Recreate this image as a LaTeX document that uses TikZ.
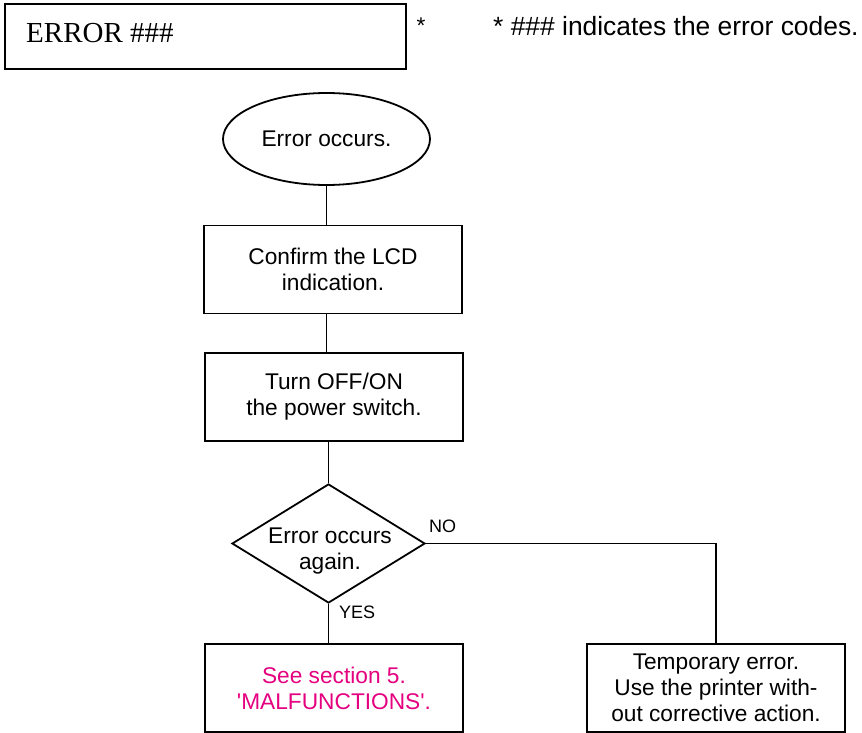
\documentclass[tikz,border=0pt]{standalone}
\usepackage{fontspec}
\usepackage{xcolor}
\setmainfont{Liberation Sans}
\newfontfamily\lcdserif{Liberation Serif}
\usetikzlibrary{shapes.geometric}
\definecolor{ManualPink}{HTML}{E4007F}

\begin{document}
\begin{tikzpicture}[
    x=1pt, y=-1pt,
    every node/.style={inner sep=0pt},
    flowtext/.style={align=center, font=\fontsize{22.7pt}{26pt}\selectfont},
    box/.style={draw, line width=1.8pt, rectangle, minimum width=258pt, minimum height=88pt, flowtext},
    startbox/.style={draw, line width=1.8pt, ellipse, minimum width=207pt, minimum height=92pt, flowtext},
    decision/.style={draw, line width=1.8pt, diamond, minimum width=193pt, minimum height=119pt},
    flow/.style={line width=1.8pt},
    answer/.style={anchor=base west, font=\fontsize{18pt}{20pt}\selectfont}
  ]
    \useasboundingbox (0,0) rectangle (862,733);

    \node[draw, line width=1.8pt, minimum width=401pt, minimum height=65pt] (errbox) at (205.5,36.5) {};
    \node[anchor=base west, font=\lcdserif\fontsize{29pt}{32pt}\selectfont] (errcode) at (26,43) {ERROR \#\#\#};
    \node[anchor=base, font=\fontsize{22.7pt}{26pt}\selectfont] (star) at (421,34) {*};
    \node[anchor=base west, font=\fontsize{26.4pt}{30pt}\selectfont] (note) at (493,36) {* \#\#\# indicates the error codes.};

    \node[startbox] (start) at (326.5,139) {\raisebox{-4pt}{Error occurs.}};
    \node[box] (confirm) at (333,269.5) {Confirm the LCD\\indication.};
    \node[box] (power) at (334,397) {Turn OFF/ON\\the power switch.};
    \node[decision] (again) at (328.5,543.5) {};
    \node[flowtext] (againtext) at (330,551) {Error occurs\\again.};
    \node[box, text=ManualPink] (malf) at (334,688) {See section 5.\\\textquotesingle MALFUNCTIONS\textquotesingle .};
    \node[box] (temp) at (716,688) {Temporary error.\\Use the printer with-\\out corrective action.};

    \draw[flow] (start.south) -- (start.south |- confirm.north);
    \draw[flow] (start.south |- confirm.south) -- (start.south |- power.north);
    \draw[flow] (again.north |- power.south) -- (again.north);
    \draw[flow] (again.south) -- (again.south |- malf.north);
    \draw[flow] (again.east) -| (temp.north);

    \node[answer] (no) at (429,532) {NO};
    \node[answer] (yes) at (339,618) {YES};
\end{tikzpicture}
\end{document}
